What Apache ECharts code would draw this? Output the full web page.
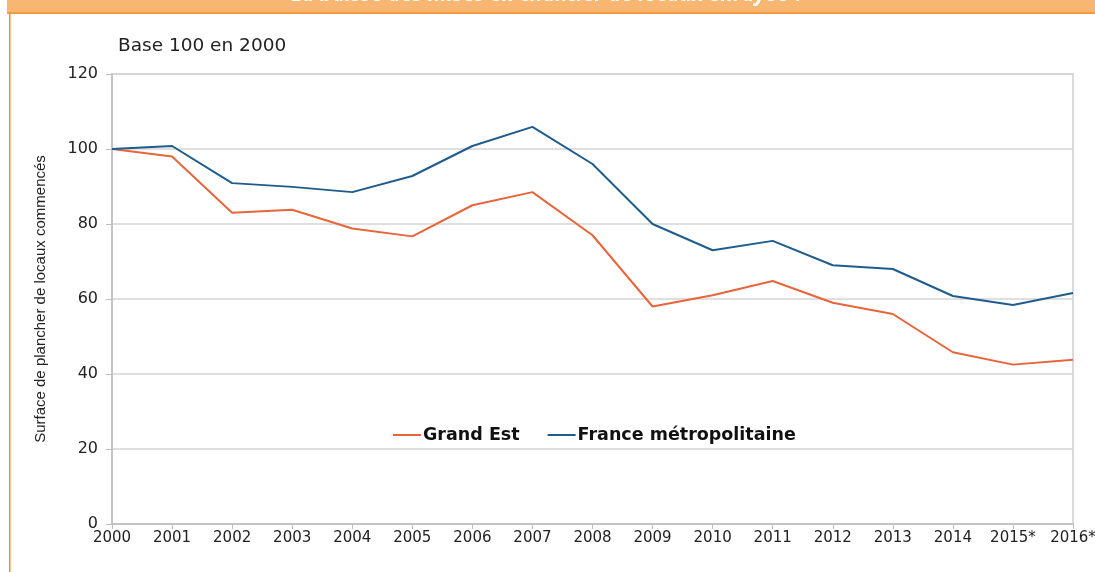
<!DOCTYPE html>
<html>
<head>
<meta charset="utf-8">
<script src="https://cdn.jsdelivr.net/npm/echarts@6/dist/echarts.min.js"></script>
<style>
html,body{margin:0;padding:0;background:#fff;}
#chart{width:1095px;height:572px;}
</style>
</head>
<body>
<div id="chart"></div>
<script>
const years = ['2000','2001','2002','2003','2004','2005','2006','2007','2008','2009','2010','2011','2012','2013','2014','2015*','2016*'];
const grandEst = [100, 98, 83, 83.8, 78.8, 76.7, 85, 88.5, 77, 58, 61, 64.8, 59, 56, 45.8, 42.5, 43.8];
const france = [100, 100.8, 90.9, 89.9, 88.5, 92.8, 100.8, 105.9, 96, 80, 73, 75.5, 69, 68, 60.8, 58.4, 61.6];
const yTicks = [0, 20, 40, 60, 80, 100, 120];

const chart = echarts.init(document.getElementById('chart'), null, {renderer:'canvas'});
chart.setOption({
  animation:false,
  backgroundColor:'#fff',
  graphic:[
    {type:'rect', left:7, top:0, shape:{width:1088, height:12}, style:{fill:'#F8B673'}, z:10},
    {type:'rect', left:7, top:12, shape:{width:1088, height:2}, style:{fill:'#F29A3C'}, z:10},
    {type:'rect', left:9, top:13, shape:{width:1.5, height:559}, style:{fill:'#F08A2C'}, z:10},
    {type:'text', left:'center', top:-15, style:{text:'La baisse des mises en chantier de locaux enrayée ?', fill:'#fff', font:'italic bold 21px "Open Sans", sans-serif'}, z:11},
    {type:'text', left:118, top:37, style:{text:'Base 100 en 2000', fill:'#222', font:'18.5px "DejaVu Sans", sans-serif'}}
  ],
  grid:{left:112, right:22, top:74, bottom:48, show:true, borderColor:'#cfcfcf', borderWidth:1.5, outerBoundsMode:'none', containLabel:false},
  legend:{
    data:['Grand Est','France métropolitaine'],
    left:388, top:421, itemGap:28, itemWidth:28, itemHeight:2,
    icon:'rect',
    textStyle:{fontSize:17.5, fontWeight:'bold', color:'#111', fontFamily:'"DejaVu Sans", sans-serif', padding:[0,0,0,-3]}
  },
  xAxis:{
    type:'category', data:years, boundaryGap:false,
    axisLine:{lineStyle:{color:'#bdbdbd', width:1.5}},
    axisTick:{show:true, length:5, lineStyle:{color:'#bdbdbd'}},
    axisLabel:{color:'#222', fontSize:15, fontFamily:'"DejaVu Sans", sans-serif', margin:7, interval:0}
  },
  yAxis:{
    type:'value', min:0, max:120, interval:20,
    name:'Surface de plancher de locaux commencés', nameLocation:'middle', nameGap:64,
    nameTextStyle:{color:'#222', fontSize:15, fontFamily:'"Liberation Sans Narrow", "Liberation Sans", Arial, sans-serif'},
    axisLine:{show:true, lineStyle:{color:'#bdbdbd', width:1.5}},
    axisTick:{show:true, length:6, lineStyle:{color:'#bdbdbd'}},
    splitLine:{lineStyle:{color:'#d4d4d4', width:1.5}},
    axisLabel:{color:'#222', fontSize:16, fontFamily:'"DejaVu Sans", sans-serif', margin:14,
      formatter:function(v){return yTicks.indexOf(v)>=0?String(v):'';}}
  },
  series:[
    {name:'Grand Est', type:'line', data:grandEst, symbol:'none', color:'#E8643A', lineStyle:{width:2, color:'#E8643A'}},
    {name:'France métropolitaine', type:'line', data:france, symbol:'none', color:'#1F5C8E', lineStyle:{width:2, color:'#1F5C8E'}}
  ]
});
</script>
</body>
</html>
